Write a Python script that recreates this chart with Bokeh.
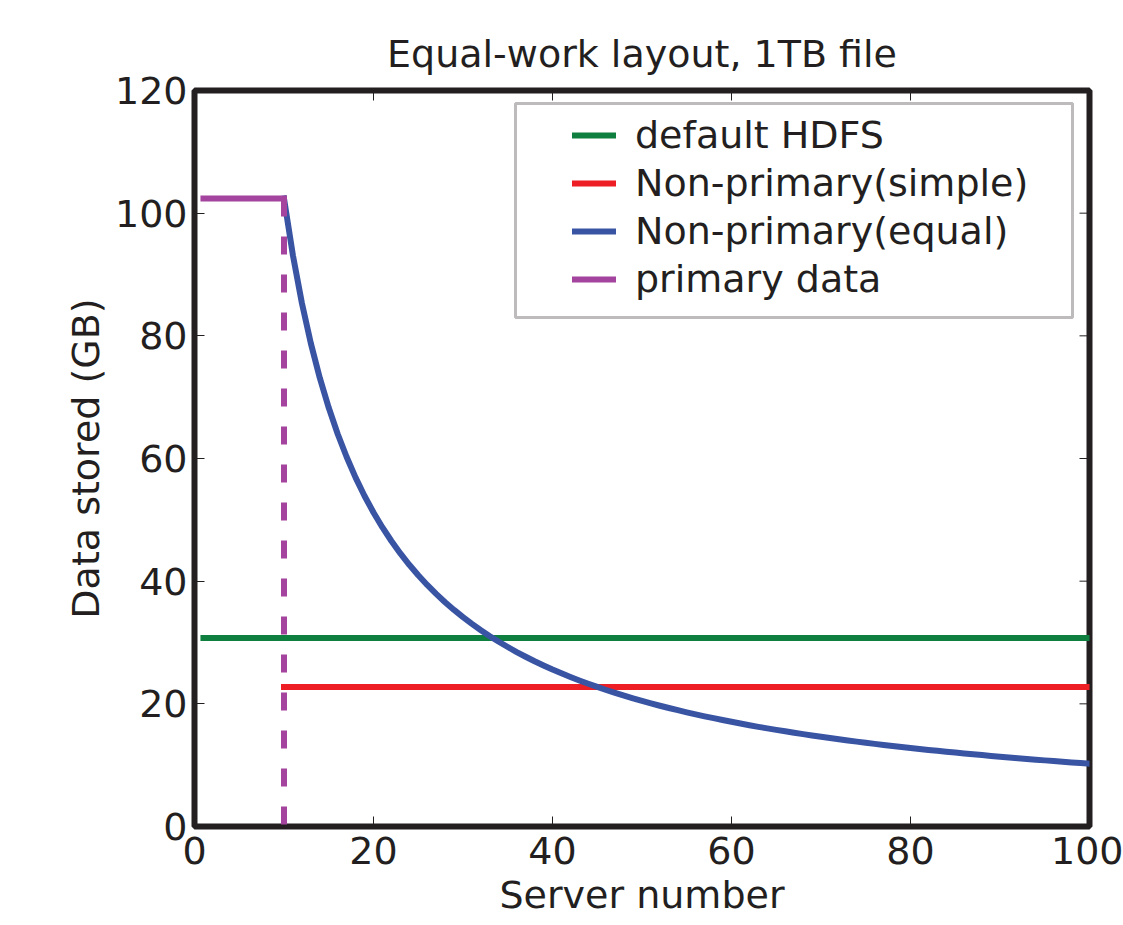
import math

from bokeh.plotting import figure
from bokeh.models import (Range1d, LinearAxis, FixedTicker, Legend, LegendItem,
                          BoxAnnotation)
from bokeh.embed import file_html
from bokeh.resources import INLINE

# Data stored per server (GB) for a 1 TB file
hdfs_servers = [1, 100]
hdfs_gb = [30.72, 30.72]

simple_servers = [10, 100]
simple_gb = [22.76, 22.76]

primary_servers = [1, 10]
primary_gb = [102.4, 102.4]

equal_servers = list(range(10, 101))
equal_gb = [
    102.4, 93.09, 85.33, 78.77, 73.14, 68.27, 64.0, 60.24, 56.89, 53.89,
    51.2, 48.76, 46.55, 44.52, 42.67, 40.96, 39.38, 37.93, 36.57, 35.31,
    34.13, 33.03, 32.0, 31.03, 30.12, 29.26, 28.44, 27.68, 26.95, 26.26,
    25.6, 24.98, 24.38, 23.81, 23.27, 22.76, 22.26, 21.79, 21.33, 20.9,
    20.48, 20.08, 19.69, 19.32, 18.96, 18.62, 18.29, 17.96, 17.66, 17.36,
    17.07, 16.79, 16.52, 16.25, 16.0, 15.75, 15.52, 15.28, 15.06, 14.84,
    14.63, 14.42, 14.22, 14.03, 13.84, 13.65, 13.47, 13.3, 13.13, 12.96,
    12.8, 12.64, 12.49, 12.34, 12.19, 12.05, 11.91, 11.77, 11.64, 11.51,
    11.38, 11.25, 11.13, 11.01, 10.89, 10.78, 10.67, 10.56, 10.45, 10.34,
    10.24,
]

x_ticks = [0, 20, 40, 60, 80, 100]
y_ticks = [0, 20, 40, 60, 80, 100, 120]
x_lim = (0, 100)
y_lim = (0, 120)

FONT = "DejaVu Sans"
INK = "#231f20"
FS = "38px"

GREEN = "#0f7f3f"
RED = "#ed1f24"
BLUE = "#3a54a4"
PURPLE = "#a4449e"

p = figure(
    width=1123, height=925,
    x_range=Range1d(*x_lim), y_range=Range1d(*y_lim),
    output_backend="svg", toolbar_location=None,
    min_border_left=194, min_border_right=34,
    min_border_top=90, min_border_bottom=99,
    x_axis_location=None, y_axis_location=None,
)
p.background_fill_color = "white"
p.border_fill_color = "white"
p.xgrid.visible = False
p.ygrid.visible = False
p.outline_line_color = INK
p.outline_line_width = 6

# Title
p.title.text = "Equal-work layout, 1TB file"
p.title.text_font = FONT
p.title.text_font_size = FS
p.title.text_font_style = "normal"
p.title.text_color = INK
p.title.align = "center"
p.title.standoff = 30


def style_axis(ax):
    ax.axis_line_color = None
    ax.major_tick_in = 10
    ax.major_tick_out = 0
    ax.major_tick_line_color = INK
    ax.major_tick_line_width = 1
    ax.minor_tick_line_color = None
    ax.major_label_text_font = FONT
    ax.major_label_text_color = INK
    ax.major_label_text_font_size = FS
    ax.axis_label_text_font = FONT
    ax.axis_label_text_font_size = FS
    ax.axis_label_text_font_style = "normal"
    ax.axis_label_text_color = INK


xb = LinearAxis(ticker=FixedTicker(ticks=x_ticks), axis_label="Server number")
style_axis(xb)
xb.major_label_standoff = 10
xb.axis_label_standoff = 6
p.add_layout(xb, "below")

yl = LinearAxis(ticker=FixedTicker(ticks=y_ticks), axis_label="Data stored (GB)")
style_axis(yl)
yl.major_label_standoff = 7
yl.axis_label_standoff = 4
p.add_layout(yl, "left")

# Mirrored inward ticks along the top and right edges
p.ray(x=x_ticks, y=[y_lim[1]] * len(x_ticks), length=10, length_units="screen",
      angle=-math.pi / 2, line_color=INK, line_width=1)
p.ray(x=[x_lim[1]] * len(y_ticks), y=y_ticks, length=10, length_units="screen",
      angle=math.pi, line_color=INK, line_width=1)

# Series
r_hdfs = p.line(hdfs_servers, hdfs_gb, line_color=GREEN, line_width=6,
                line_cap="square")
r_simple = p.line(simple_servers, simple_gb, line_color=RED, line_width=6,
                  line_cap="square")
r_equal = p.line(equal_servers, equal_gb, line_color=BLUE, line_width=6,
                 line_cap="square", line_join="round")
p.line([primary_servers[-1], primary_servers[-1]], [primary_gb[-1], 0],
       line_color=PURPLE, line_width=6, line_dash="18 20")
r_primary = p.line(primary_servers, primary_gb, line_color=PURPLE, line_width=6,
                   line_cap="square")

# Legend frame
legend_box = BoxAnnotation(
    left=321, right=878, bottom=509, top=723,
    left_units="screen", right_units="screen",
    bottom_units="screen", top_units="screen",
    fill_color="white", fill_alpha=1.0,
    line_color=INK, line_width=3,
)
p.add_layout(legend_box)

legend = Legend(
    items=[
        LegendItem(label="default HDFS", renderers=[r_hdfs]),
        LegendItem(label="Non-primary(simple)", renderers=[r_simple]),
        LegendItem(label="Non-primary(equal)", renderers=[r_equal]),
        LegendItem(label="primary data", renderers=[r_primary]),
    ],
    location=(378, 524),
    orientation="vertical",
    border_line_color=None,
    background_fill_alpha=0,
    padding=0, margin=0, spacing=2,
    glyph_width=44, glyph_height=46,
    label_height=46, label_standoff=19,
    label_text_font=FONT, label_text_font_size=FS,
    label_text_color=INK,
)
p.add_layout(legend)

open("out.html", "w").write(file_html(p, INLINE))
